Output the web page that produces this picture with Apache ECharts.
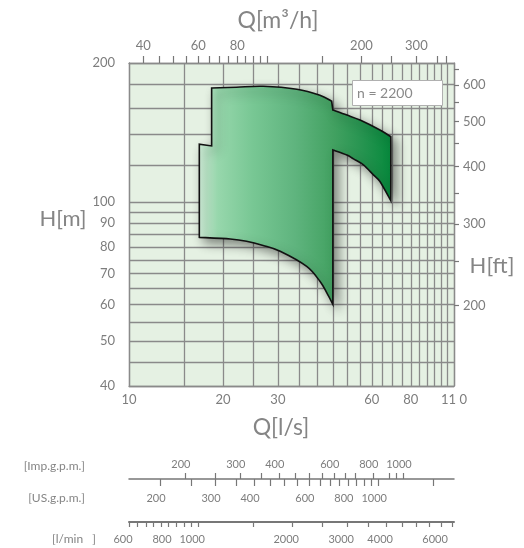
<!DOCTYPE html>
<html><head><meta charset="utf-8">
<script src="https://cdn.jsdelivr.net/npm/echarts@6/dist/echarts.min.js"></script>
<style>html,body{margin:0;padding:0;background:#fff}#c{width:524px;height:548px}</style>
</head><body><div id="c"></div>
<script>
const FONT = 'Lato, "Open Sans", sans-serif';
// main axes (l/s and m)
const qMin = 10, qMax = 110, hMin = 40, hMax = 200;
const qGridLines = [10,15,20,25,30,35,40,45,50,55,60,65,70,75,80,85,90,95,100,105,110];
const qLabels = [10,20,30,60,80,110];
const hGridLines = [40,45,50,55,60,65,70,75,80,85,90,95,100,120,140,160,180,200];
const hLabels = [40,50,60,70,80,90,100,200];
// secondary scales
const m3hFactor = 3.6;
const m3hTicks = [40,45,50,55,60,65,70,75,80,85,90,95,100,150,200,250,300,350,375];
const m3hLabels = [40,60,80,200,300];
const ftFactor = 3.35;
const ftTicks = [200,250,300,350,400,450,500,550,600,650];
const ftLabels = [200,300,400,500,600];
const impFactor = 13.198;
const impTicks = [200,250,300,350,400,450,500,550,600,650,700,800,900,950,1000];
const impLabels = [200,300,400,600,800,1000];
const usFactor = 15.85;
const usTicks = [200,250,300,350,400,450,500,550,600,650,700,750,800,850,900,950,1000,1500];
const usLabels = [200,300,400,600,800,1000];
const lminFactor = 60;
const lminTicks = [600,640,680,720,760,800,850,900,950,1000,1500,2000,2500,3000,3500,4000,4500,5000,5500,6000,6500];
const lminLabels = [600,800,1000,2000,3000,4000,6000];
// operating field outline (Q l/s, H m), as four curved edges + left notch corners
const topQ = [18.4,22.1,26.9,34.5,40.9,44.6];
const topH = [176.6,177.3,178.1,175.5,170.3,165.4];
const upperQ = [45.0,49.9,55.0,63.7,69.0];
const upperH = [158.2,154.3,150.5,143.2,138.5];
const lowerQ = [69.0,63.7,60.7,56.4,52.4,49.9,45.0];
const lowerH = [100.7,110.8,114.5,120.4,124.0,126.5,129.7];
const bottomQ = [45.0,43.0,40.9,37.1,30.5,26.9,23.8,21.1,16.8];
const bottomH = [60.1,63.7,67.4,72.6,78.3,80.6,82.3,83.2,83.9];
const notchQ = [16.8,18.4];
const notchH = [133.4,132.3];
const speedLabel = 'n = 2200';

const gray = '#858585', lineGray = '#8a8a8a';
const lbl = (vals, extra) => Object.assign({customValues: vals, color: '#7d7d7d', fontSize: 13, fontFamily: FONT,
  formatter: v => { const r = Math.round(v); return r === 110 ? '11 0' : String(r); }}, extra || {});
const hiddenY = idx => ({gridIndex: idx, type: 'value', min: 0, max: 1, show: false, splitLine: {show: false}});

function curveSeg(pts, start) {
  let d = (start ? 'M' : 'L') + pts[0][0] + ',' + pts[0][1];
  for (let i = 0; i < pts.length - 1; i++) {
    const p0 = pts[Math.max(i - 1, 0)], p1 = pts[i], p2 = pts[i + 1], p3 = pts[Math.min(i + 2, pts.length - 1)];
    const c1 = [p1[0] + (p2[0] - p0[0]) / 6, p1[1] + (p2[1] - p0[1]) / 6];
    const c2 = [p2[0] - (p3[0] - p1[0]) / 6, p2[1] - (p3[1] - p1[1]) / 6];
    d += 'C' + c1[0] + ',' + c1[1] + ' ' + c2[0] + ',' + c2[1] + ' ' + p2[0] + ',' + p2[1];
  }
  return d;
}

const allQ = [].concat(topQ, upperQ, lowerQ, bottomQ, notchQ);
const allH = [].concat(topH, upperH, lowerH, bottomH, notchH);

const chart = echarts.init(document.getElementById('c'), null, {renderer: 'canvas'});
chart.setOption({
  animation: false,
  backgroundColor: '#fff',
  grid: [
    {left: 129, top: 63, width: 325, height: 323, show: true, backgroundColor: '#e5f1e3', borderWidth: 0},
    {left: 129, top: 478, width: 325, height: 1, show: false},
    {left: 129, top: 521, width: 325, height: 1, show: false}
  ],
  title: {text: speedLabel, left: 352, top: 80, padding: [6, 30, 6, 5], backgroundColor: '#fff', borderColor: '#b0b0b0', borderWidth: 1,
    textStyle: {fontSize: 14, fontWeight: 'normal', color: '#8a8a8a', fontFamily: FONT}},
  xAxis: [
    {gridIndex: 0, type: 'log', min: qMin, max: qMax, position: 'bottom',
     axisLine: {show: true, lineStyle: {color: lineGray, width: 1.3}},
     axisTick: {show: false, customValues: qGridLines},
     splitLine: {show: true, lineStyle: {color: lineGray, width: 1.3}},
     axisLabel: lbl(qLabels, {margin: 7})},
    {gridIndex: 0, type: 'log', min: qMin * m3hFactor, max: qMax * m3hFactor, position: 'top',
     axisLine: {show: true, lineStyle: {color: lineGray, width: 1.3}},
     axisTick: {show: true, customValues: m3hTicks, length: 7, lineStyle: {color: '#777', width: 1.2}},
     splitLine: {show: false},
     axisLabel: lbl(m3hLabels, {margin: 11})},
    {gridIndex: 1, type: 'log', min: qMin * impFactor, max: qMax * impFactor, position: 'top',
     axisLine: {show: true, lineStyle: {color: '#777', width: 1.5}},
     axisTick: {show: true, customValues: impTicks, length: 6, lineStyle: {color: '#777', width: 1.2}},
     splitLine: {show: false},
     axisLabel: lbl(impLabels, {margin: 8, fontSize: 11, padding: [0, 9, 0, 0]})},
    {gridIndex: 1, type: 'log', min: qMin * usFactor, max: qMax * usFactor, position: 'bottom',
     axisLine: {show: false},
     axisTick: {show: true, customValues: usTicks, length: 7, lineStyle: {color: '#777', width: 1.2}},
     splitLine: {show: false},
     axisLabel: lbl(usLabels, {margin: 14, fontSize: 11, padding: [0, 9, 0, 0]})},
    {gridIndex: 2, type: 'log', min: qMin * lminFactor, max: qMax * lminFactor, position: 'bottom',
     axisLine: {show: true, lineStyle: {color: '#777', width: 2}},
     axisTick: {show: true, customValues: lminTicks, length: 5, lineStyle: {color: '#777', width: 1.2}},
     splitLine: {show: false},
     axisLabel: lbl(lminLabels, {margin: 12, fontSize: 11, padding: [0, 12, 0, 0]})}
  ],
  yAxis: [
    {gridIndex: 0, type: 'log', min: hMin, max: hMax, position: 'left',
     axisLine: {show: true, lineStyle: {color: lineGray, width: 1.3}},
     axisTick: {show: false, customValues: hGridLines},
     splitLine: {show: true, lineStyle: {color: lineGray, width: 1.3}},
     axisLabel: lbl(hLabels, {margin: 14})},
    {gridIndex: 0, type: 'log', min: hMin * ftFactor, max: hMax * ftFactor, position: 'right',
     axisLine: {show: true, lineStyle: {color: lineGray, width: 1.3}},
     axisTick: {show: true, customValues: ftTicks, length: 5, lineStyle: {color: '#777', width: 1.2}},
     splitLine: {show: false},
     axisLabel: lbl(ftLabels, {margin: 9})},
    hiddenY(1),
    hiddenY(2)
  ],
  graphic: [
    {type: 'text', x: 278, y: 21, style: {text: 'Q[m³/h]', fontSize: 23, fill: gray, fontFamily: FONT, textAlign: 'center', textVerticalAlign: 'middle'}},
    {type: 'text', x: 281, y: 428, style: {text: 'Q[l/s]', fontSize: 23, fill: gray, fontFamily: FONT, textAlign: 'center', textVerticalAlign: 'middle'}},
    {type: 'text', x: 63, y: 219, style: {text: 'H[m]', fontSize: 22, fill: gray, fontFamily: FONT, textAlign: 'center', textVerticalAlign: 'middle'}},
    {type: 'text', x: 492, y: 266, style: {text: 'H[ft]', fontSize: 22, fill: gray, fontFamily: FONT, textAlign: 'center', textVerticalAlign: 'middle'}},
    {type: 'text', x: 85, y: 466, style: {text: '[Imp.g.p.m.]', fontSize: 12, fill: gray, fontFamily: FONT, textAlign: 'right', textVerticalAlign: 'middle'}},
    {type: 'text', x: 85, y: 498, style: {text: '[US.g.p.m.]', fontSize: 12, fill: gray, fontFamily: FONT, textAlign: 'right', textVerticalAlign: 'middle'}},
    {type: 'text', x: 96, y: 539, style: {text: '[l/min   ]', fontSize: 12, fill: gray, fontFamily: FONT, textAlign: 'right', textVerticalAlign: 'middle'}}
  ],
  series: [{
    type: 'custom', coordinateSystem: 'cartesian2d', xAxisIndex: 0, yAxisIndex: 0,
    data: allQ.map((q, i) => [q, allH[i]]),
    renderItem: function (params, api) {
      if (params.dataIndex !== 0) return null;
      const c = (qs, hs) => qs.map((q, i) => api.coord([q, hs[i]]));
      const notch = c(notchQ, notchH);
      let d = curveSeg(c(topQ, topH), true) + curveSeg(c(upperQ, upperH), false) +
              curveSeg(c(lowerQ, lowerH), false) + curveSeg(c(bottomQ, bottomH), false);
      notch.forEach(p => { d += 'L' + p[0] + ',' + p[1]; });
      d += 'Z';
      return {
        type: 'path', shape: {pathData: d},
        style: {
          fill: new echarts.graphic.LinearGradient(0, 0, 1, 0, [
            {offset: 0, color: '#d2efda'}, {offset: 0.1, color: '#97d7ac'}, {offset: 0.28, color: '#78c794'},
            {offset: 0.5, color: '#5fb47e'}, {offset: 0.7, color: '#42a161'}, {offset: 0.85, color: '#269450'},
            {offset: 1, color: '#06893c'}]),
          stroke: '#111', lineWidth: 1.6, lineJoin: 'miter',
          shadowBlur: 11, shadowOffsetX: 5, shadowOffsetY: 5, shadowColor: 'rgba(0,0,0,0.45)'
        }
      };
    },
    z: 5
  }]
});
</script></body></html>
